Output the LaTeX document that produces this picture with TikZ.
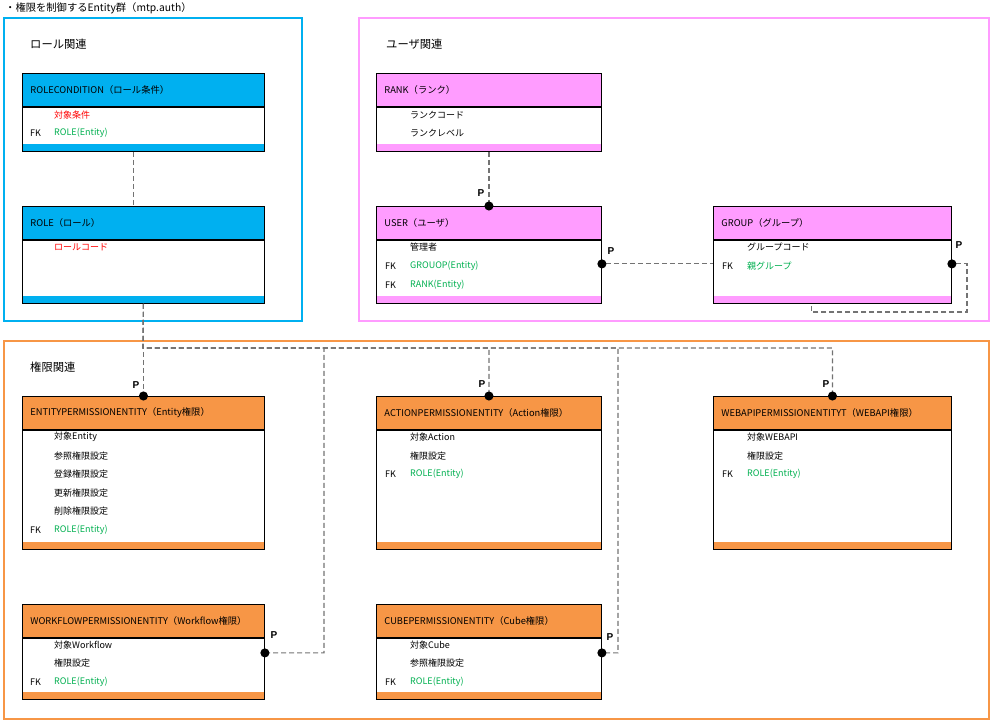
\documentclass[tikz,border=0pt]{standalone}
\usepackage{fontspec}
\setmainfont{Noto Sans CJK JP}
\newfontfamily\pfont{Liberation Sans}
\usetikzlibrary{positioning,arrows.meta}
\definecolor{rolecolor}{RGB}{0,176,240}
\definecolor{usercolor}{RGB}{255,156,255}
\definecolor{permcolor}{RGB}{247,150,70}
\definecolor{keyred}{RGB}{255,0,0}
\definecolor{fkgreen}{RGB}{0,176,80}
\begin{document}
\begin{tikzpicture}[x=1pt, y=-1pt,
    frame/.style={rectangle, draw=#1, line width=1.6pt, anchor=north west, inner sep=0pt},
    grouplabel/.style={anchor=west, inner sep=0pt, font=\fontsize{11.3}{13}\selectfont},
    header/.style={rectangle, draw=black, fill=#1, line width=0.9pt, anchor=north west,
        inner xsep=8pt, inner ysep=0pt, minimum height=33pt, align=left,
        font=\fontsize{9.3}{11}\selectfont},
    body/.style={rectangle, draw=black, fill=white, line width=0.9pt, anchor=north west,
        inner sep=0pt, path picture={\fill[#1] (path picture bounding box.south west)
        rectangle ([yshift=7pt]path picture bounding box.south east);}},
    field/.style={anchor=west, inner sep=0pt, font=\fontsize{9}{10}\selectfont},
    fk/.style={field},
    ptag/.style={inner sep=0pt, font=\pfont\bfseries\fontsize{10}{11}\selectfont},
    conn/.style={draw=black!55, dash pattern=on 5pt off 3pt, line width=1.1pt},
    dotend/.style={-{Circle[length=9pt, color=black]}, shorten >=-4.5pt},
    dotstart/.style={{Circle[length=9pt, color=black]}-, shorten <=-4.5pt},
]
\useasboundingbox (0,0) rectangle (992,722);
  % title and group frames
  \node[anchor=west, inner sep=0pt, font=\fontsize{10.3}{12}\selectfont] (title) at (5,8) {・権限を制御するEntity群（mtp.auth）};
  \node[frame=rolecolor, minimum width=298pt, minimum height=303pt] (f_role) at (3,17) {};
  \node[frame=usercolor, minimum width=630pt, minimum height=303pt] (f_user) at (358,17) {};
  \node[frame=permcolor, minimum width=985pt, minimum height=378pt] (f_perm) at (3,340) {};
  \node[grouplabel] (g_role) at (30,44) {ロール関連};
  \node[grouplabel] (g_user) at (386,44) {ユーザ関連};
  \node[grouplabel] (g_perm) at (30,367) {権限関連};

  % ROLECONDITION
  \node[header=rolecolor, text width=226pt] (rolecond_h) at (22,73) {ROLECONDITION（ロール条件）};
  \node[body=rolecolor, minimum width=242pt, minimum height=44pt] (rolecond_b) at (rolecond_h.south west) {};
  \node[field, text=keyred] (rolecond_f1) at (54,115) {対象条件};
  \node[fk] (rolecond_k2) at (30,133) {FK};
  \node[field, text=fkgreen] (rolecond_f2) at (54,133) {ROLE(Entity)};

  % ROLE
  \node[header=rolecolor, text width=226pt] (role_h) at (22,206) {ROLE（ロール）};
  \node[body=rolecolor, minimum width=242pt, minimum height=63pt] (role_b) at (role_h.south west) {};
  \node[field, text=keyred] (role_f1) at (54,247) {ロールコード};

  % RANK
  \node[header=usercolor, text width=209pt] (rank_h) at (376,73) {RANK（ランク）};
  \node[body=usercolor, minimum width=225pt, minimum height=44pt] (rank_b) at (rank_h.south west) {};
  \node[field] (rank_f1) at (410,115) {ランクコード};
  \node[field] (rank_f2) at (410,133) {ランクレベル};

  % USER
  \node[header=usercolor, text width=209pt] (user_h) at (376,206) {USER（ユーザ）};
  \node[body=usercolor, minimum width=225pt, minimum height=63pt] (user_b) at (user_h.south west) {};
  \node[field] (user_f1) at (410,247) {管理者};
  \node[fk] (user_k2) at (385,266) {FK};
  \node[field, text=fkgreen] (user_f2) at (410,266) {GROUOP(Entity)};
  \node[fk] (user_k3) at (385,285) {FK};
  \node[field, text=fkgreen] (user_f3) at (410,285) {RANK(Entity)};

  % GROUP
  \node[header=usercolor, text width=222pt] (group_h) at (713,206) {GROUP（グループ）};
  \node[body=usercolor, minimum width=238pt, minimum height=63pt] (group_b) at (group_h.south west) {};
  \node[field] (group_f1) at (747,247) {グループコード};
  \node[fk] (group_k2) at (722,266) {FK};
  \node[field, text=fkgreen] (group_f2) at (747,266) {親グループ};

  % ENTITYPERMISSIONENTITY
  \node[header=permcolor, text width=226pt] (entperm_h) at (22,396) {ENTITYPERMISSIONENTITY（Entity権限）};
  \node[body=permcolor, minimum width=242pt, minimum height=119pt] (entperm_b) at (entperm_h.south west) {};
  \node[field] (entperm_f1) at (54,437) {対象Entity};
  \node[field] (entperm_f2) at (54,456) {参照権限設定};
  \node[field] (entperm_f3) at (54,474) {登録権限設定};
  \node[field] (entperm_f4) at (54,493) {更新権限設定};
  \node[field] (entperm_f5) at (54,511) {削除権限設定};
  \node[fk] (entperm_k6) at (30,530) {FK};
  \node[field, text=fkgreen] (entperm_f6) at (54,530) {ROLE(Entity)};

  % ACTIONPERMISSIONENTITY
  \node[header=permcolor, text width=209pt] (action_h) at (376,396) {ACTIONPERMISSIONENTITY（Action権限）};
  \node[body=permcolor, minimum width=225pt, minimum height=119pt] (action_b) at (action_h.south west) {};
  \node[field] (action_f1) at (410,437) {対象Action};
  \node[field] (action_f2) at (410,456) {権限設定};
  \node[fk] (action_k3) at (385,474) {FK};
  \node[field, text=fkgreen] (action_f3) at (410,474) {ROLE(Entity)};

  % WEBAPIPERMISSIONENTITYT
  \node[header=permcolor, text width=222pt] (webapi_h) at (713,396) {WEBAPIPERMISSIONENTITYT（WEBAPI権限）};
  \node[body=permcolor, minimum width=238pt, minimum height=119pt] (webapi_b) at (webapi_h.south west) {};
  \node[field] (webapi_f1) at (747,437) {対象WEBAPI};
  \node[field] (webapi_f2) at (747,456) {権限設定};
  \node[fk] (webapi_k3) at (722,474) {FK};
  \node[field, text=fkgreen] (webapi_f3) at (747,474) {ROLE(Entity)};

  % WORKFLOWPERMISSIONENTITY
  \node[header=permcolor, text width=226pt] (wf_h) at (22,604) {WORKFLOWPERMISSIONENTITY（Workflow権限）};
  \node[body=permcolor, minimum width=242pt, minimum height=61pt] (wf_b) at (wf_h.south west) {};
  \node[field] (wf_f1) at (54,645) {対象Workflow};
  \node[field] (wf_f2) at (54,663) {権限設定};
  \node[fk] (wf_k3) at (30,682) {FK};
  \node[field, text=fkgreen] (wf_f3) at (54,682) {ROLE(Entity)};

  % CUBEPERMISSIONENTITY
  \node[header=permcolor, text width=209pt] (cube_h) at (376,604) {CUBEPERMISSIONENTITY（Cube権限）};
  \node[body=permcolor, minimum width=225pt, minimum height=61pt] (cube_b) at (cube_h.south west) {};
  \node[field] (cube_f1) at (410,645) {対象Cube};
  \node[field] (cube_f2) at (410,663) {参照権限設定};
  \node[fk] (cube_k3) at (385,682) {FK};
  \node[field, text=fkgreen] (cube_f3) at (410,682) {ROLE(Entity)};

  % relations
  \coordinate (bus_role) at (143,348);
  \coordinate (turn_wf) at (324,348);
  \coordinate (turn_cube) at (618,348);
  \coordinate (loop_group) at (967,312);
  \draw[conn] ([xshift=-10pt]rolecond_b.south) -- ([xshift=-10pt]role_h.north);
  \draw[conn, dotend] (rank_b.south) -- (user_h.north);
  \draw[conn, dotstart] ([yshift=-24pt]user_b.north east) -- ([yshift=-24pt]group_b.north west);
  \draw[conn, dotstart] ([yshift=-24pt]group_b.north east) -| (loop_group) -| ([xshift=-21pt]group_b.south);
  \draw[conn, dotend] (role_b.south) -- (entperm_h.north);
  \draw[conn, dotend] (role_b.south) -- (bus_role) -| (action_h.north);
  \draw[conn, dotend] (role_b.south) -- (bus_role) -| (webapi_h.north);
  \draw[conn, dotend] (role_b.south) -- (bus_role) -- (turn_wf) |- ([yshift=-15pt]wf_b.north east);
  \draw[conn, dotend] (role_b.south) -- (bus_role) -- (turn_cube) |- ([yshift=-15pt]cube_b.north east);
  \node[ptag] (p_user_top) at (481,193) {P};
  \node[ptag] (p_user_right) at (611,251) {P};
  \node[ptag] (p_group) at (959,245) {P};
  \node[ptag] (p_entperm) at (136,385) {P};
  \node[ptag] (p_action) at (482,384) {P};
  \node[ptag] (p_webapi) at (826,384) {P};
  \node[ptag] (p_wf) at (274,635) {P};
  \node[ptag] (p_cube) at (610,637) {P};
\end{tikzpicture}
\end{document}
